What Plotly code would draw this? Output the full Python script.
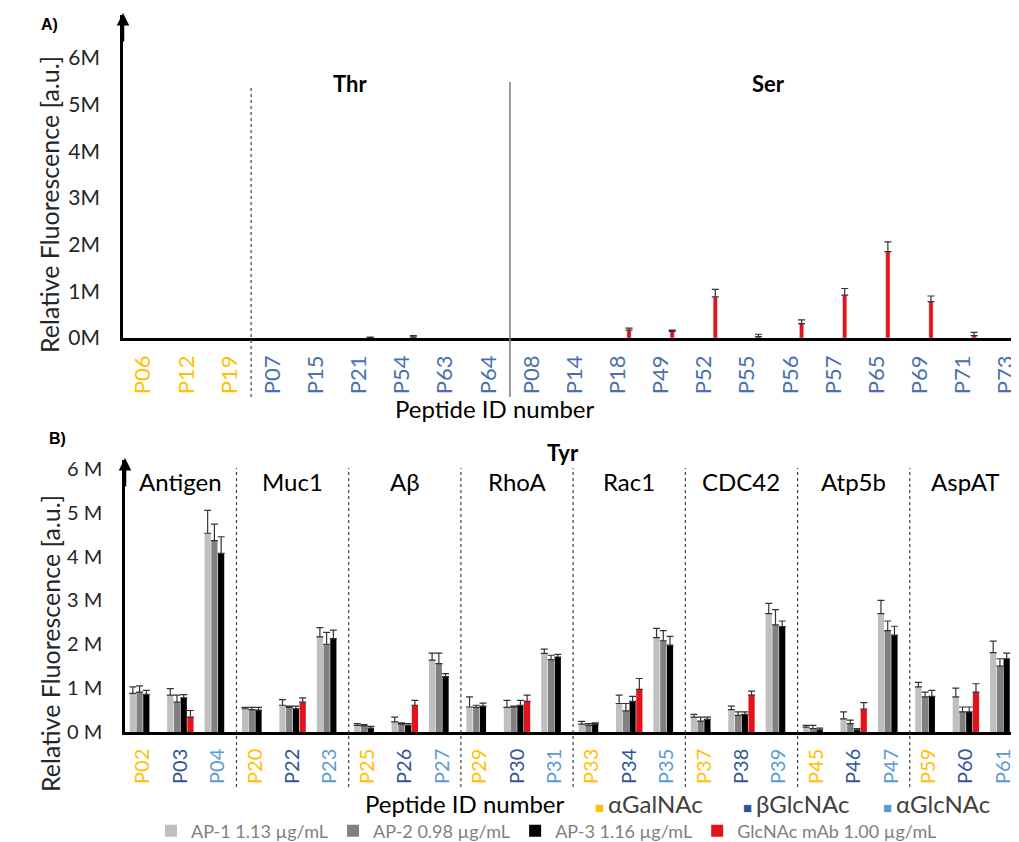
import plotly.graph_objects as go

# ---------------- data ----------------
# Panel A (Thr / Ser peptides) - only GlcNAc mAb signal visible
peptides_A = ["P06", "P12", "P19", "P07", "P15", "P21", "P54", "P63", "P64",
              "P08", "P14", "P18", "P49", "P52", "P55", "P56", "P57", "P65", "P69", "P71", "P73"]
glyco_A = ["aGalNAc"] * 3 + ["thr_ser"] * 18
mab_A = [None, None, None, None, None, 0.01, 0.02, None, None,
         None, None, 0.17, 0.14, 0.88, 0.03, 0.31, 0.92, 1.85, 0.78, 0.05, 0.72]
mab_A_err = [None, None, None, None, None, 0.01, 0.03, None, None,
             None, None, 0.04, 0.03, 0.16, 0.05, 0.08, 0.14, 0.21, 0.12, 0.07, 0.09]
sections_A = ["Thr", "Ser"]

# Panel B (Tyr peptides)
peptides_B = ["P02", "P03", "P04", "P20", "P22", "P23", "P25", "P26", "P27", "P29", "P30", "P31",
              "P33", "P34", "P35", "P37", "P38", "P39", "P45", "P46", "P47", "P59", "P60", "P61"]
glyco_B = ["aGalNAc", "bGlcNAc", "aGlcNAc"] * 8
groups_B = ["Antigen", "Muc1", "Aβ", "RhoA", "Rac1", "CDC42", "Atp5b", "AspAT"]

ap1 = [0.88, 0.84, 4.53, 0.53, 0.61, 2.17, 0.15, 0.23, 1.64, 0.57, 0.56, 1.79,
       0.18, 0.65, 2.15, 0.34, 0.51, 2.70, 0.11, 0.30, 2.70, 1.03, 0.80, 1.81]
ap1_err = [0.15, 0.15, 0.52, 0.03, 0.13, 0.21, 0.04, 0.11, 0.16, 0.23, 0.16, 0.10,
           0.06, 0.19, 0.21, 0.06, 0.08, 0.23, 0.04, 0.16, 0.30, 0.10, 0.20, 0.26]
ap2 = [0.91, 0.68, 4.36, 0.51, 0.56, 2.00, 0.14, 0.18, 1.56, 0.56, 0.57, 1.65,
       0.15, 0.48, 2.08, 0.25, 0.38, 2.44, 0.08, 0.19, 2.31, 0.80, 0.46, 1.50]
ap2_err = [0.14, 0.16, 0.38, 0.05, 0.03, 0.27, 0.03, 0.03, 0.24, 0.05, 0.02, 0.10,
           0.04, 0.17, 0.23, 0.09, 0.08, 0.35, 0.07, 0.08, 0.22, 0.11, 0.11, 0.17]
ap3 = [0.86, 0.78, 4.07, 0.50, 0.53, 2.13, 0.09, 0.15, 1.26, 0.59, 0.61, 1.71,
       0.18, 0.70, 1.98, 0.29, 0.40, 2.40, 0.05, 0.05, 2.21, 0.81, 0.46, 1.67]
ap3_err = [0.09, 0.07, 0.38, 0.06, 0.06, 0.19, 0.04, 0.04, 0.07, 0.07, 0.11, 0.06,
           0.03, 0.11, 0.20, 0.05, 0.06, 0.13, 0.04, 0.03, 0.20, 0.14, 0.11, 0.13]
mab = [None, 0.34, None, None, 0.68, None, None, 0.61, None, None, 0.70, None,
       None, 0.97, None, None, 0.84, None, None, 0.52, None, None, 0.91, None]
mab_err = [None, 0.15, None, None, 0.10, None, None, 0.11, None, None, 0.14, None,
           None, 0.25, None, None, 0.09, None, None, 0.15, None, None, 0.19, None]

series_names = ["AP-1 1.13 µg/mL", "AP-2 0.98 µg/mL", "AP-3 1.16 µg/mL", "GlcNAc mAb 1.00 µg/mL"]
y_ticks = [0, 1, 2, 3, 4, 5, 6]
y_ticktext_A = ["0M", "1M", "2M", "3M", "4M", "5M", "6M"]
y_ticktext_B = ["0 M", "1 M", "2 M", "3 M", "4 M", "5 M", "6 M"]

# ---------------- styles ----------------
OFF = 8                      # default page (body) margin around the plot div
W, H = 1019 - OFF, 842 - OFF
FONT = "Lato"
series_colors = ["#BFBFBF", "#808080", "#000000", "#E3121B"]
glyco_colors = {"aGalNAc": "#FFC000", "bGlcNAc": "#2F5597", "aGlcNAc": "#5B9BD5", "thr_ser": "#4A70AE"}
ERR = dict(type="data", symmetric=False, color="#333333", thickness=1.2, width=3.5, visible=True)


def px(x):
    """page-pixel x -> paper fraction"""
    return (x - OFF) / W


def py(y):
    """page-pixel y -> paper fraction"""
    return 1 - (y - OFF) / H


fig = go.Figure()

# Panel A bars
fig.add_trace(go.Bar(
    x=peptides_A, y=mab_A, xaxis="x", yaxis="y",
    marker_color=series_colors[3], width=0.1, offset=0.21,
    error_y=dict(array=mab_A_err, arrayminus=[0] * len(mab_A_err), **ERR),
    showlegend=False, name=series_names[3]))

# Panel B bars
for name, vals, errs, col in zip(series_names, [ap1, ap2, ap3, mab], [ap1_err, ap2_err, ap3_err, mab_err],
                                 series_colors):
    fig.add_trace(go.Bar(
        x=peptides_B, y=vals, xaxis="x2", yaxis="y2", name=name,
        marker_color=col, marker_line_width=0,
        error_y=dict(array=errs, arrayminus=[0] * len(errs), **ERR),
        showlegend=True))


def colored_ticks(peps, glyco):
    return [f'<span style="color:{glyco_colors[g]}">{p}</span>' for p, g in zip(peps, glyco)]


axis_common = dict(showgrid=False, zeroline=False, showline=True, linecolor="black", automargin=False)

fig.update_layout(
    width=W, height=H, margin=dict(l=0, r=0, t=0, b=0, autoexpand=False),
    paper_bgcolor="white", plot_bgcolor="white",
    font=dict(family=FONT, size=18, color="#262626"),
    barmode="group", bargap=0.28, bargroupgap=0.08,
    xaxis=dict(domain=[px(123), 1], anchor="y", type="category", range=[-0.47, 20.3],
               tickvals=peptides_A, ticktext=colored_ticks(peptides_A, glyco_A),
               tickangle=-90, ticks="outside", ticklen=6, tickcolor="rgba(0,0,0,0)",
               tickfont=dict(size=22), linewidth=2.5, **axis_common),
    yaxis=dict(domain=[py(338), py(15)], anchor="x", range=[0, 6.92], tickvals=y_ticks,
               ticktext=y_ticktext_A, ticks="outside", ticklen=16, tickcolor="rgba(0,0,0,0)",
               tickfont=dict(size=21), linewidth=2.5, **axis_common),
    xaxis2=dict(domain=[px(125), 1], anchor="y2", type="category", range=[-0.48, 23.42],
                tickvals=peptides_B, ticktext=colored_ticks(peptides_B, glyco_B),
                tickangle=-90, ticks="outside", ticklen=6, tickcolor="rgba(0,0,0,0)",
                tickfont=dict(size=20), linewidth=2.5, **axis_common),
    yaxis2=dict(domain=[py(732), py(460)], anchor="x2", range=[0, 6.2], tickvals=y_ticks,
                ticktext=y_ticktext_B, ticks="outside", ticklen=16, tickcolor="rgba(0,0,0,0)",
                tickfont=dict(size=20), linewidth=2.5, **axis_common),
    legend=dict(orientation="h", x=px(151), xanchor="left", y=py(831), yanchor="middle",
                itemwidth=30, font=dict(size=18, color="#7F7F7F"), bgcolor="rgba(0,0,0,0)",
                traceorder="normal"),
)

shapes = []
# Panel A separators
shapes.append(dict(type="line", xref="x", yref="paper", x0=2.5, x1=2.5, y0=py(397), y1=py(85),
                   line=dict(color="#404040", width=1.2, dash="dot")))
shapes.append(dict(type="line", xref="x", yref="paper", x0=8.5, x1=8.5, y0=py(397), y1=py(82),
                   line=dict(color="#808080", width=1.6)))
# Panel B separators
for k in range(1, len(groups_B)):
    xs = 3 * k - 0.5
    shapes.append(dict(type="line", xref="x2", yref="paper", x0=xs, x1=xs, y0=py(787), y1=py(468),
                       line=dict(color="#404040", width=1.2, dash="dot")))
fig.update_layout(shapes=shapes)


def label(x, y, text, size, xref="paper", color="black", xanchor="center", **kw):
    return dict(x=x, y=y, xref=xref, yref="paper", text=text, showarrow=False,
                xanchor=xanchor, yanchor="middle", font=dict(size=size, color=color, **kw.pop("font", {})),
                **kw)


ann = []
# axis arrows
ann.append(dict(x=px(123), y=py(13), xref="paper", yref="paper", ax=0, ay=30, text="",
                showarrow=True, arrowhead=2, arrowsize=1, arrowwidth=2.5, arrowcolor="black"))
ann.append(dict(x=px(125), y=py(458), xref="paper", yref="paper", ax=0, ay=30, text="",
                showarrow=True, arrowhead=2, arrowsize=1, arrowwidth=2.5, arrowcolor="black"))
# y axis titles
ann.append(label(px(49), py(205), "Relative Fluorescence [a.u.]", 25, color="#262626", textangle=-90))
ann.append(label(px(50), py(644), "Relative Fluorescence [a.u.]", 25, color="#262626", textangle=-90))
# panel letters
ann.append(label(px(49), py(25), "<b>A)</b>", 16, font=dict(family="Liberation Sans")))
ann.append(label(px(57), py(438), "<b>B)</b>", 16, font=dict(family="Liberation Sans")))
# section labels
ann.append(label(4.8, py(83), f"<b>{sections_A[0]}</b>", 22, xref="x"))
ann.append(label(14.5, py(83), f"<b>{sections_A[1]}</b>", 22, xref="x"))
ann.append(label(px(563), py(452), "<b>Tyr</b>", 22))
for k, g in enumerate(groups_B):
    ann.append(label(3 * k + 1, py(481), g, 24, xref="x2"))
# x axis titles
ann.append(label(px(495), py(408), "Peptide ID number", 24))
ann.append(label(px(465), py(803), "Peptide ID number", 24))
# glycosylation legend
for xl, key, lab in [(593, "aGalNAc", "αGalNAc"), (741, "bGlcNAc", "βGlcNAc"), (881, "aGlcNAc", "αGlcNAc")]:
    ann.append(label(px(xl), py(803),
                     f'<span style="color:{glyco_colors[key]};font-size:15px">■ </span>{lab}',
                     24, color="#404040", xanchor="left"))
fig.update_layout(annotations=ann)

fig.write_html("out.html")
